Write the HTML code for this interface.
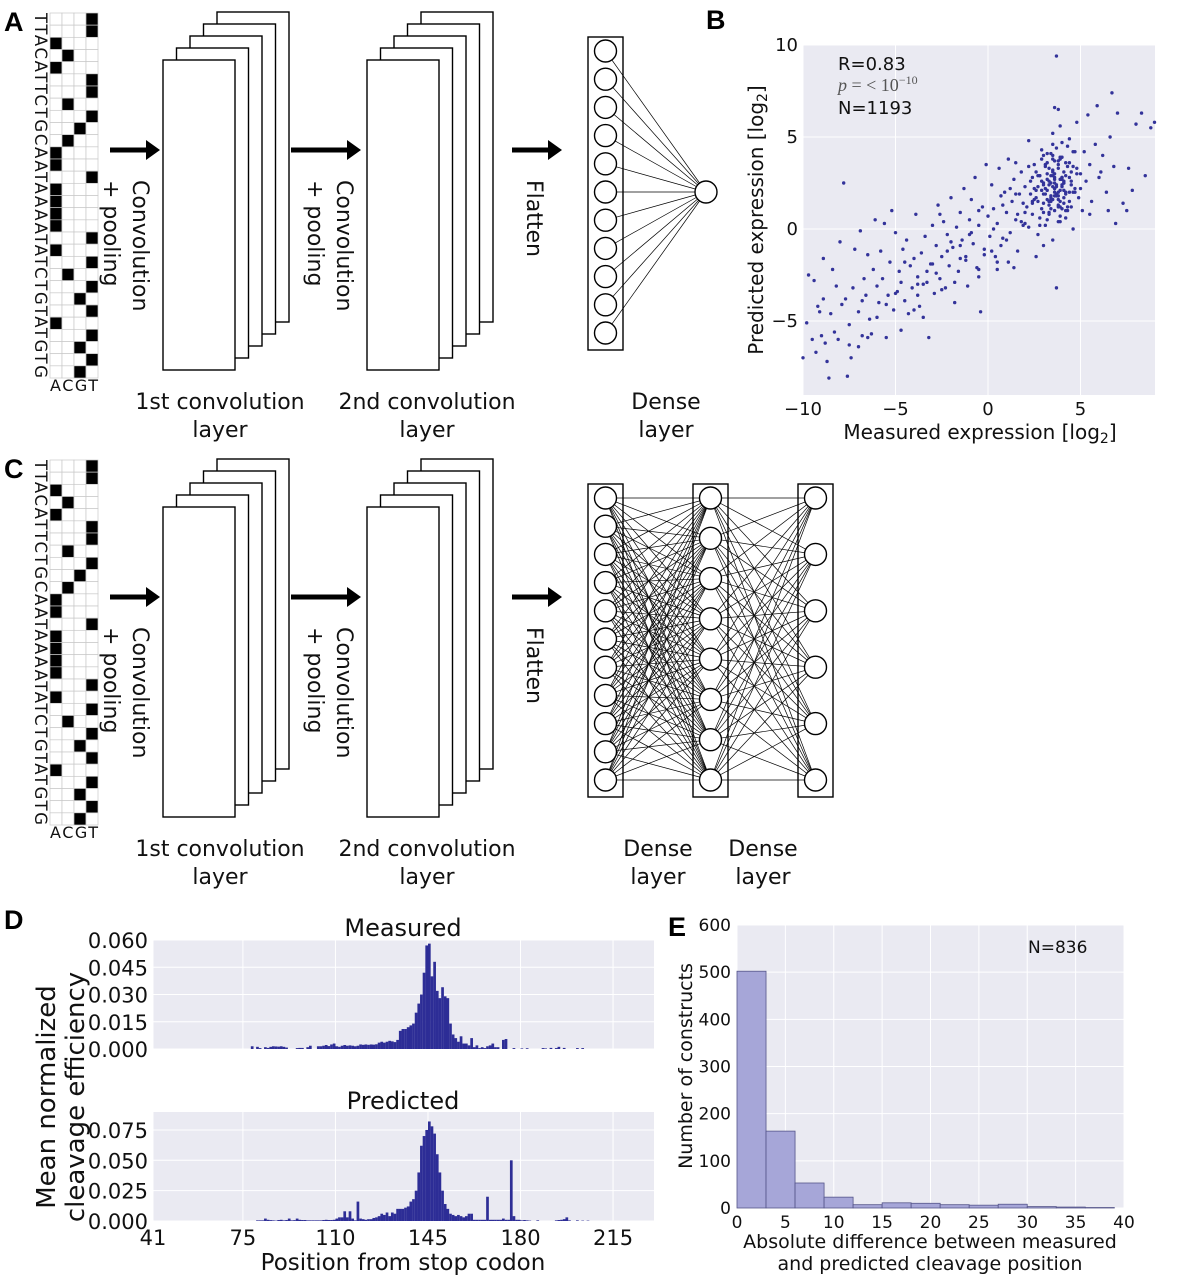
<!DOCTYPE html>
<html><head><meta charset="utf-8"><style>
html,body{margin:0;padding:0;background:#fff;}
svg{display:block;font-family:"DejaVu Sans","Liberation Sans",sans-serif;}
</style></head><body>
<svg id="fig" width="1180" height="1280" viewBox="0 0 1180 1280" xmlns="http://www.w3.org/2000/svg"></svg>
<script>
// ---------- DATA ----------
const seq = "TTACATTCTGCAATAAAATATCTGTATGTG";
const bases = ["A","C","G","T"];
// Panel B scatter (measured, predicted) log2
const scatterX = [-10,-9.8,-9.7,-9.5,-9.4,-9.3,-9.2,-9,-8.9,-8.9,-8.8,-8.7,-8.6,-8.5,-8.4,-8.3,-8.2,-8.1,-8,-7.9,-7.8,-7.7,-7.6,-7.5,-7.4,-7.3,-7.2,-7.0,-6.9,-6.8,-6.7,-6.6,-6.5,-6.4,-6.3,-6.2,-6.1,-6.0,-5.9,-5.8,-5.7,-5.6,-5.5,-5.4,-5.3,-5.2,-5.1,-5.0,
-4.9,-4.8,-4.7,-4.6,-4.5,-4.4,-4.3,-4.2,-4.1,-4.0,-3.9,-3.8,-3.7,-3.6,-3.5,-3.4,-3.3,-3.2,-3.1,-3.0,-2.9,-2.8,-2.7,-2.6,-2.5,-2.4,-2.3,-2.2,-2.1,-2.0,-1.9,-1.8,-1.7,-1.6,-1.5,-1.4,-1.3,-1.2,-1.1,-1.0,-0.9,-0.8,-0.7,-0.6,-0.5,-0.4,-0.3,-0.2,-0.1,0,
-4.5,-3.3,-2.2,-1.0,-0.5,-2.6,-3.8,-1.5,-0.9,-2.0,
0.1,0.2,0.3,0.4,0.5,0.6,0.7,0.8,0.9,1.0,1.1,1.2,1.3,1.4,1.5,1.6,1.7,1.8,1.9,2.0,0.3,0.8,1.2,1.6,1.9,0.5,1.1,
2.1,2.2,2.3,2.4,2.5,2.6,2.7,2.8,2.9,3.0,3.1,3.2,3.3,3.4,3.5,3.6,3.7,3.7,3.8,3.9,4.0,4.1,4.2,4.3,4.4,4.5,4.6,4.7,4.8,4.9,5.0,2.3,2.5,2.7,2.9,3.1,3.3,3.5,3.6,3.8,4.0,4.2,4.4,3.4,3.0,3.9,4.1,3.2,3.7,3.3,2.8,4.6,3.5,3.0,2.6,4.3,3.9,3.6,3.2,3.8,4.5,4.0,3.4,2.9,3.7,4.2,3.1,2.4,3.6,3.9,4.7,4.8,5.0,2.2,2.0,2.6,3.5,4.4,3.8,3.3,3.5,3.9,4.1,3.6,3.0,2.7,
5.1,5.2,5.3,5.4,5.5,5.6,5.8,5.9,6.0,6.2,6.4,6.6,6.7,6.8,6.9,7.0,7.3,7.6,7.8,8.0,8.3,8.5,8.8,9.0,6.5,7.5,5.5,6.1,
1.4,0.7,-0.5,-1.5,2.2,1.5,-3.5,-4.7,-6.8,-9.1,
3.4,3.6,3.8,4.0,4.2,3.5,3.7,3.9,4.1,4.3,3.3,3.5,3.7,3.9,4.1,3.2,3.4,3.6,3.8,4.0,3.0,3.2,3.4,3.6,3.8,4.4,4.6,2.8,3.0,3.2,3.4,3.6,3.8,4.0,4.2,2.9,3.1,3.3,3.5,3.7,3.9,4.1,4.5,4.7,2.5,2.7,3.0,3.3,3.6,3.9,4.2,4.5,4.8,2.6,2.9,3.2,3.5,3.8,4.1,4.4,2.4,2.8,3.1,3.4,3.7,4.0,4.3,4.6,3.5,3.8,4.0,3.3,3.6,
1.0,1.5,2.0,0.5,-0.5,-1.2,-2.5,-3.0,-4.0,-5.5,-6.5,-7.5,-1.8,0.2,1.8,2.4,-0.2,-2.8,-3.8,-5.0,-6.0,-7.0];
const scatterY = [-7,-5.1,-2.5,-6,-2.8,-6.7,-4.2,-5.8,-1.6,-3.8,-6.2,-7.2,-8.1,-4.6,-2.2,-5.6,-3.1,-6.0,-0.7,-4.1,2.5,-3.8,-8.0,-5.2,-7.0,-3.2,-1.1,-4.5,-0.1,-5.8,-2.7,-3.6,-1.4,-4.9,-5.7,-2.2,0.5,-3.1,-4.0,-1.2,-2.7,0.3,-5.9,-3.6,-1.8,1.0,-4.4,-0.2,
-3.4,-2.3,-5.5,-1.1,-3.9,-0.6,-4.6,-2.0,-3.2,-1.6,0.8,-2.6,-4.2,-1.3,-3.0,-0.4,-2.3,-5.9,-1.9,0.2,-3.5,-0.9,1.3,-2.7,-1.5,0.4,-3.2,-0.3,-2.0,1.7,-1.0,-4.0,0.1,-2.3,0.9,-0.6,2.2,-1.5,-3.1,0.5,1.6,-0.8,2.8,-2.1,0.2,-4.5,1.2,-1.1,3.5,0.7,
-1.8,-2.9,-1.2,-0.3,1.0,0.8,-3.6,-0.9,-0.2,-0.7,
-0.4,2.4,1.1,-1.5,0.3,3.3,1.8,-0.5,2.0,0.9,3.8,-0.2,1.5,2.7,0.5,-1.2,1.9,3.1,0.2,2.3,0.0,1.3,2.2,0.8,1.4,-2.2,-1.8,
1.2,4.8,2.6,0.8,3.5,1.7,-0.3,2.9,1.1,4.0,2.2,0.5,3.3,1.8,5.2,2.5,-3.2,9.4,6.5,1.5,3.9,2.1,0.6,4.5,2.8,1.2,3.4,2.0,5.8,1.7,3.0,1.9,2.2,1.5,2.6,1.9,2.4,1.6,3.0,2.0,2.4,1.9,3.6,2.9,1.4,2.7,3.1,3.6,4.4,0.9,0.2,0.0,-0.6,-0.9,-1.5,1.0,0.4,1.0,2.7,3.5,2.6,4.7,4.1,3.8,1.9,2.9,0.2,2.8,6.6,5.6,4.2,3.3,2.2,0.1,0.9,3.1,3.8,1.5,1.2,1.5,2.3,2.1,1.7,2.0,2.5,2.3,
1.0,4.2,2.6,6.2,3.5,1.5,4.6,6.7,2.8,4.0,2.0,5.0,7.4,3.4,0.3,6.3,1.4,3.3,2.1,5.7,6.3,2.9,5.5,5.8,1.0,1.0,0.8,3.1,
-2.1,-0.9,-2.2,-1.6,3.4,3.6,-4.8,-2.9,-3.9,-4.5,
1.5,2.2,1.8,2.8,2.0,3.2,2.4,1.2,2.6,3.4,0.8,2.9,1.9,3.8,1.4,2.1,1.1,2.7,1.6,2.3,1.9,3.0,2.5,3.7,1.3,2.0,4.2,0.6,2.4,4.1,1.6,2.2,3.3,2.8,1.0,2.1,3.5,2.6,4.6,1.8,3.9,2.5,3.1,2.2,1.6,2.9,0.9,1.3,1.8,0.7,3.6,2.4,3.0,2.1,4.3,1.6,3.1,0.4,2.5,4.9,1.4,2.9,3.4,1.7,2.3,2.7,1.2,2.0,4.0,3.7,1.1,1.5,2.8,
-0.6,1.9,0.3,-1.8,-2.6,-1.7,-3.3,-1.9,-4.4,-4.1,-5.9,-6.3,-2.9,-1.2,0.4,1.5,-1.4,-2.4,-3.0,-3.5,-4.8,-6.4];
const bXTicks = [-10,-5,0,5];
const bYTicks = [10,5,0,-5];
// Panel D histograms (units of 0.001)
const measStart = 78;
const measuredVals = [1.5,0,1.2,0.5,0,1,0.6,1.2,1.5,1.4,1.3,1.5,1.2,0.8,0,0,0,0.5,0.6,0.6,0,1.0,
1.8,0,0,1.5,1.5,1.8,2.2,1.6,2.5,3.0,1.5,1.2,1.8,2.2,1.8,2.0,1.8,1.5,1.8,2.5,
2.3,2.5,2.3,2.5,2.4,2.6,3.5,4.0,3.5,4.0,4.5,4.2,3.8,5.0,10,11,11,
12,13,14,20,25,30,42,57,58,40,48,32,28,34,29,28,14,8,
6,4,7,3,3,2,6,1,2,0.5,1,0.5,1.5,2,3,1,1,0,5,5.5,0,0,0.5,0,0,0.3,
0,0.4,0,0,0,0,0,0.5,0.3,0,0.6,0,0.5,1.2,0,0.6,0,0,0,0,0.5,0,0.5,0];
const predStart = 80;
const predictedVals = [0.5,0.5,0.5,2,1,0.7,0.5,0.3,0.8,1,0.5,0.8,2,0.5,0.7,2,1,0.8,0.8,0.5,
0.5,0.5,0.5,0.5,0.5,0.8,1,0.8,0.8,1,2,3,3,8,3,8,2,0.5,16,2,
1.5,1,1.5,1.5,2.5,3,4,6,5,7,4,7,6,10,10,10,11,12,16,18,
25,40,62,70,75,82,78,72,55,40,25,14,10,6,5,4,5,4,3,4,
6,6,1,1,1,1,1,20,1,1,1,1,1,2,1,1,50,4,1,1,
0.5,0.8,0.5,0.3,0,0,0.5,0,0,0,0,0,0,0.5,0.8,1,1.5,3,0.5,0,0,0.5,0,0.3,0,0.3,0,0,0,0,0,0,0,0,0,0,0,0,0,0,0];
const dXTicks = [41,75,110,145,180,215];
const measYTicks = ["0.000","0.015","0.030","0.045","0.060"];
const predYTicks = ["0.000","0.025","0.050","0.075"];
// Panel E histogram
const eBinEdges = [0,3,6,9,12,15,18,21,24,27,30,33,36,39];
const eCounts = [502,163,53,23,7,11,10,7,6,8,3,2,1];
const eXTicks = [0,5,10,15,20,25,30,35,40];
const eYTicks = [0,100,200,300,400,500,600];

// ---------- HELPERS ----------
const NS = "http://www.w3.org/2000/svg";
const svg = document.getElementById("fig");
function mk(tag, attrs, parent){
  const e = document.createElementNS(NS, tag);
  for (const k in attrs) e.setAttribute(k, attrs[k]);
  (parent || svg).appendChild(e);
  return e;
}
function txt(x, y, s, size, anchor, parent, extra){
  const e = mk("text", Object.assign({x:x, y:y, "font-size":size, "text-anchor":anchor||"middle", fill:"#111"}, extra||{}), parent);
  e.textContent = s;
  return e;
}
function grp(parent){ return mk("g", {}, parent); }

// ---------- PANEL LETTERS ----------
[["A",4,31],["B",706,29],["C",4,478],["D",4,929],["E",668,936]].forEach(p=>{
  const t = txt(p[1], p[2], p[0], 27, "start", svg, {"font-family":"Liberation Sans, Arial, sans-serif","font-weight":"bold",fill:"#000"});
  
  
});

// ---------- NETWORK DIAGRAMS ----------
function arrow(g, x1, x2, y){
  const a = grp(g);
  
  
  mk("line", {x1:x1, y1:y, x2:x2-12, y2:y, stroke:"#000", "stroke-width":5}, a);
  mk("polygon", {points:`${x2-14},${y-10} ${x2},${y} ${x2-14},${y+10}`, fill:"#000"}, a);
}
function rotLabel(g, x, y, lines, size){
  const t = mk("text", {transform:`translate(${x},${y}) rotate(90)`, "font-size":size, fill:"#111"}, g);
  lines.forEach((l,i)=>{ const ts = mk("tspan", {x:0, y:i*29}, t); ts.textContent = l; });
  return t;
}
function stack(g, x0, oy, name){
  const s = grp(g);
  
  
  for (let i=4;i>=0;i--){
    mk("rect", {x:x0+i*13.5, y:60-i*12+oy, width:72, height:310, fill:"#fff", stroke:"#000", "stroke-width":1.4}, s);
  }
}
function denseCol(g, x, oy, n, name){
  const c = grp(g);
  
  
  mk("rect", {x:x, y:37+oy, width:35, height:313, fill:"none", stroke:"#000", "stroke-width":1.4}, c);
  const pts = [];
  for (let i=0;i<n;i++){ pts.push([x+17.5, 51+oy + (n>1 ? i*282/(n-1) : 0)]); }
  return {g:c, pts:pts};
}
function drawCircles(col){
  col.pts.forEach(p=> mk("circle", {cx:p[0], cy:p[1], r:11, fill:"#fff", stroke:"#000", "stroke-width":1.4}, col.g));
}
function connect(g, a, b){
  a.forEach(p=> b.forEach(q=> mk("line", {x1:p[0], y1:p[1], x2:q[0], y2:q[1], stroke:"#000", "stroke-width":0.7}, g)));
}
function panel(oy, two, pname){
  const g = grp(svg);
  
  
  const grid = grp(g);
  
  
  const rh = 365/30;
  for (let r=0;r<30;r++) for (let c=0;c<4;c++){
    mk("rect", {x:50+c*12, y:13+oy+r*rh, width:12, height:rh, fill: seq[r]===bases[c] ? "#000" : "#fff", stroke:"#c8c8c8", "stroke-width":0.7}, grid);
  }
  const sq = mk("text", {transform:`translate(35,${13+oy}) rotate(90)`, "font-size":16.5, fill:"#111", textLength:365, lengthAdjust:"spacing"}, g);
  sq.textContent = seq;
  
  
  const ac = txt(50, 391+oy, "ACGT", 16, "start", g, {textLength:48, lengthAdjust:"spacing"});
  
  
  arrow(g, 110, 160, 150+oy);
  const l1 = rotLabel(g, 133, 180+oy, ["Convolution","+ pooling"], 22);
  
  
  stack(g, 163, oy, 'conv-layer-1');
  arrow(g, 291, 361, 150+oy);
  const l2 = rotLabel(g, 337, 180+oy, ["Convolution","+ pooling"], 22);
  
  
  stack(g, 367, oy, 'conv-layer-2');
  arrow(g, 512, 562, 150+oy);
  const fl = rotLabel(g, 527, 180+oy, ["Flatten"], 22);
  
  
  [[220,"1st convolution"],[427,"2nd convolution"]].forEach(d=>{
    const t = txt(d[0], 409+oy, d[1], 22, "middle", g);
    
    
    const t2 = txt(d[0], 437+oy, "layer", 22, "middle", g);
    
    
  });
  const lines = grp(g);
  
  
  if (!two){
    const c1 = denseCol(g, 588, oy, 11, 'dense-layer');
    const out = grp(g);
    
    
    connect(lines, c1.pts, [[706,192+oy]]);
    drawCircles(c1);
    mk("circle", {cx:706, cy:192+oy, r:11, fill:"#fff", stroke:"#000", "stroke-width":1.4}, out);
    const d1 = txt(666, 409+oy, "Dense", 22, "middle", g);
    
    
    const d2 = txt(666, 437+oy, "layer", 22, "middle", g);
    
    
  } else {
    const c1 = denseCol(g, 588, oy, 11, 'dense-layer-1');
    const c2 = denseCol(g, 693, oy, 8, 'dense-layer-2');
    const c3 = denseCol(g, 798, oy, 6, 'dense-layer-3');
    connect(lines, c1.pts, c2.pts);
    connect(lines, c2.pts, c3.pts);
    drawCircles(c1); drawCircles(c2); drawCircles(c3);
    [658,763].forEach(x=>{
      const d1 = txt(x, 409+oy, "Dense", 22, "middle", g);
      
      
      const d2 = txt(x, 437+oy, "layer", 22, "middle", g);
      
      
    });
  }
}
panel(0, false, 'panel-a-network');
panel(447, true, 'panel-c-network');

// ---------- PANEL B SCATTER ----------
(function(){
  const g = grp(svg);
  
  
  const L=803,R=1155,T=45,B=395;
  const sx = v => L + (v+10)*18.5;
  const sy = v => 229 - v*18.4;
  const bg = mk("rect", {x:L, y:T, width:R-L, height:B-T, fill:"#eaeaf2"}, g);
  
  
  bXTicks.forEach(v=>{
    mk("line", {x1:sx(v), x2:sx(v), y1:T, y2:B, stroke:"#fff", "stroke-width":1}, g);
    const t = txt(sx(v), 415, v<0 ? "\u2212"+(-v) : String(v), 18, "middle", g);
    
    
  });
  bYTicks.forEach(v=>{
    mk("line", {x1:L, x2:R, y1:sy(v), y2:sy(v), stroke:"#fff", "stroke-width":1}, g);
    const t = txt(798, sy(v)+6, v<0 ? "\u2212"+(-v) : String(v), 18, "end", g);
    
    
  });
  const pts = grp(g);
  
  
  for (let i=0;i<scatterX.length;i++){
    const c = mk("circle", {cx:sx(scatterX[i]), cy:sy(scatterY[i]), r:1.7, fill:"#33339a"}, pts);
    
    
  }
  const r = txt(838, 70, "R=0.83", 18, "start", g);
  
  
  const p = mk("text", {x:838, y:91, "font-size":18, "font-family":"Liberation Serif, serif", "font-style":"italic", fill:"#555"}, g);
  p.innerHTML = 'p<tspan font-style="normal"> = &lt; 10</tspan><tspan dy="-7" font-size="12" font-style="normal">\u221210</tspan>';
  
  
  const n = txt(838, 114, "N=1193", 18, "start", g);
  
  
  const xl = mk("text", {x:980, y:439, "font-size":20, "text-anchor":"middle", fill:"#111"}, g);
  xl.innerHTML = 'Measured expression [log<tspan font-size="14" dy="4">2</tspan><tspan dy="-4">]</tspan>';
  
  
  const yl = mk("text", {transform:"translate(763,220) rotate(-90)", "font-size":20, "text-anchor":"middle", fill:"#111"}, g);
  yl.innerHTML = 'Predicted expression [log<tspan font-size="14" dy="4">2</tspan><tspan dy="-4">]</tspan>';
  
  
})();

// ---------- PANEL D ----------
(function(){
  const g = grp(svg);
  
  
  const L=153,R=654;
  const sx = v => L + (v-41)*2.644;
  function sub(T,B,maxV,ticks,vals,start,title,titleY,name){
    const s = grp(g);
    
    
    const sy = v => B - v/maxV*(B-T);
    const bg = mk("rect", {x:L, y:T, width:R-L, height:B-T, fill:"#eaeaf2"}, s);
    
    
    dXTicks.forEach(v=> mk("line", {x1:sx(v), x2:sx(v), y1:T, y2:B, stroke:"#fff", "stroke-width":1}, s));
    ticks.forEach(tk=>{
      const v = parseFloat(tk);
      mk("line", {x1:L, x2:R, y1:sy(v), y2:sy(v), stroke:"#fff", "stroke-width":1}, s);
      const t = txt(148, sy(v)+8, tk, 21, "end", s);
      
      
    });
    vals.forEach((v,i)=>{
      if (v<=0) return;
      const h = v/1000;
      const b = mk("rect", {x:sx(start+i), y:sy(h), width:2.7, height:B-sy(h), fill:"#2d2d96"}, s);
      
      
    });
    const t = txt(403, titleY, title, 24, "middle", s);
    
    
  }
  sub(940,1049,0.060,measYTicks,measuredVals,measStart,"Measured",936,'measured-histogram');
  sub(1112,1221,0.0898,predYTicks,predictedVals,predStart,"Predicted",1109,'predicted-histogram');
  dXTicks.forEach(v=>{
    const t = txt(sx(v), 1245, String(v), 21, "middle", g);
    
    
  });
  const xl = txt(403, 1270, "Position from stop codon", 23, "middle", g);
  
  
  const yl = mk("text", {transform:"translate(55,1097) rotate(-90)", "font-size":26, "text-anchor":"middle", fill:"#111"}, g);
  yl.innerHTML = '<tspan x="0" y="0">Mean normalized</tspan><tspan x="0" y="29">cleavage efficiency</tspan>';
  
  
})();

// ---------- PANEL E ----------
(function(){
  const g = grp(svg);
  
  
  const L=737,R=1124,T=925,B=1208;
  const sx = v => L + v*(R-L)/40;
  const sy = v => B - v*(B-T)/600;
  const bg = mk("rect", {x:L, y:T, width:R-L, height:B-T, fill:"#eaeaf2"}, g);
  
  
  eXTicks.forEach(v=>{
    mk("line", {x1:sx(v), x2:sx(v), y1:T, y2:B, stroke:"#fff", "stroke-width":1}, g);
    const t = txt(sx(v), 1228, String(v), 17, "middle", g);
    
    
  });
  eYTicks.forEach(v=>{
    mk("line", {x1:L, x2:R, y1:sy(v), y2:sy(v), stroke:"#fff", "stroke-width":1}, g);
    const t = txt(731, sy(v)+6, String(v), 17, "end", g);
    
    
  });
  eCounts.forEach((c,i)=>{
    const x0 = sx(eBinEdges[i]), x1 = sx(eBinEdges[i+1]);
    const b = mk("rect", {x:x0, y:sy(c), width:x1-x0, height:B-sy(c), fill:"#a6a6d8", stroke:"#55558a", "stroke-width":0.8}, g);
    
    
  });
  const n = txt(1028, 953, "N=836", 17, "start", g);
  
  
  const x1 = txt(930, 1248, "Absolute difference between measured", 19, "middle", g);
  
  
  const x2 = txt(930, 1270, "and predicted cleavage position", 19, "middle", g);
  
  
  const yl = mk("text", {transform:"translate(692,1066) rotate(-90)", "font-size":19, "text-anchor":"middle", fill:"#111"}, g);
  yl.textContent = "Number of constructs";
  
  
})();
</script>
</body></html>
